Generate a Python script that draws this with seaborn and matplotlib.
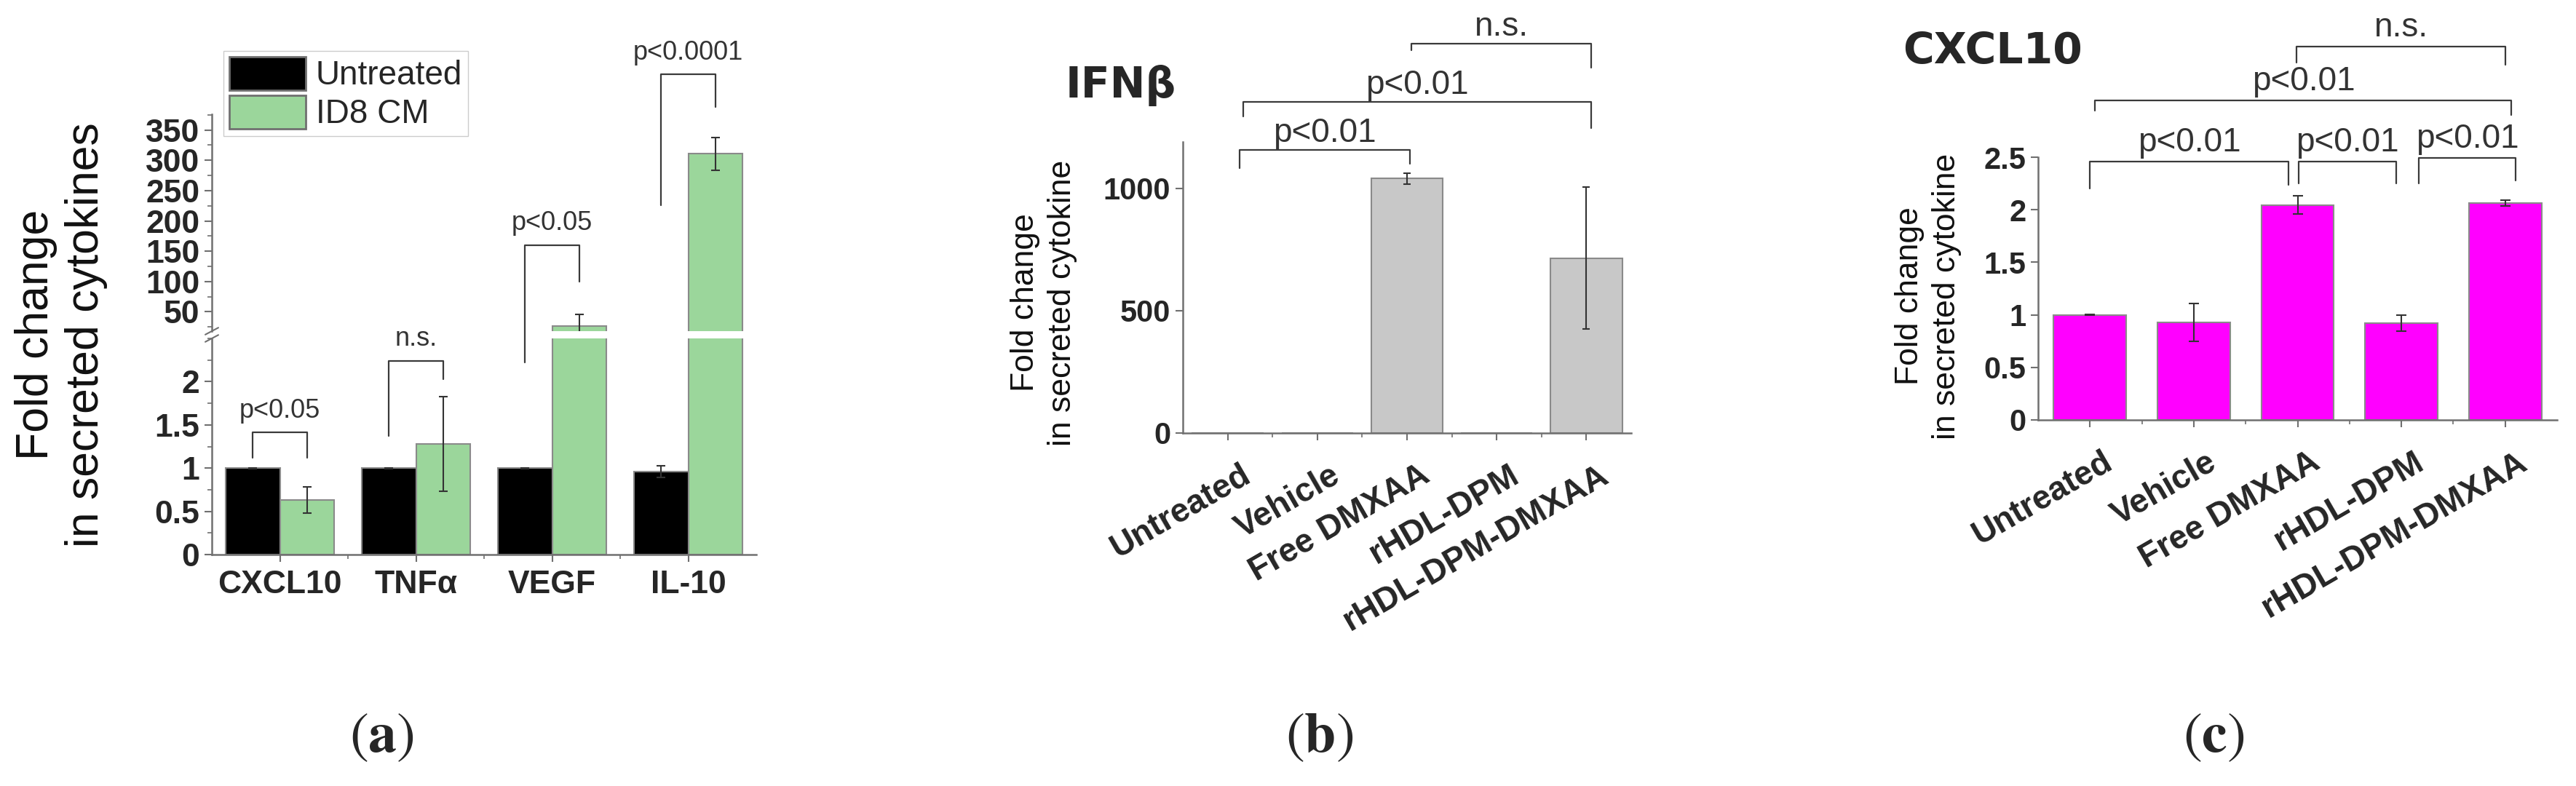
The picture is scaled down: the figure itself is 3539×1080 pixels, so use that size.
"""
Cytokine secretion panels: (a) broken-axis grouped bars, (b) IFNb, (c) CXCL10.
"""

import matplotlib.pyplot as plt
import numpy as np
import pandas as pd
import seaborn as sns
from matplotlib.lines import Line2D
from matplotlib.patches import Patch
from matplotlib.ticker import FixedLocator, MultipleLocator
from matplotlib.transforms import ScaledTranslation


# ---- panel (a) data ----
A_CYTOKINES = ['CXCL10', 'TNFα', 'VEGF', 'IL-10']
A_GROUPS = ['Untreated', 'ID8 CM']
A_UNTREATED = [1.0, 1.0, 1.0, 0.96]
A_UNTREATED_ERR = [0.005, 0.005, 0.005, 0.07]
A_ID8 = [0.63, 1.28, 27.0, 311.0]
A_ID8_ERR = [0.15, 0.55, 19.0, 27.0]
A_LOW_TICKS = [0, 0.5, 1, 1.5, 2]
A_HIGH_TICKS = [50, 100, 150, 200, 250, 300, 350]
# (x1, x2, top, top_axis, left_end, left_axis, right_end, right_axis, label)
A_BRACKETS = [
    (-0.2, 0.2, 1.41, 'lo', 1.12, 'lo', 1.12, 'lo', 'p<0.05'),
    (0.8, 1.2, 2.24, 'lo', 1.37, 'lo', 2.03, 'lo', 'n.s.'),
    (1.8, 2.2, 160, 'hi', 2.22, 'lo', 100, 'hi', 'p<0.05'),
    (2.8, 3.2, 442, 'hi', 226, 'hi', 388, 'hi', 'p<0.0001'),
]

# ---- panels (b) and (c) data ----
TREATMENTS = ['Untreated', 'Vehicle', 'Free DMXAA', 'rHDL-DPM', 'rHDL-DPM-DMXAA']
B_IFNB = [1.0, 1.0, 1040.0, 1.0, 715.0]
B_IFNB_ERR = [0, 0, 22.0, 0, 290.0]
B_TICKS = [0, 500, 1000]
B_BRACKETS = [
    (0.13, 2.03, 1156, 1084, 1101, 'p<0.01'),
    (0.17, 4.05, 1355, 1295, 1247, 'p<0.01'),
    (2.05, 4.05, 1593, 1564, 1493, 'n.s.'),
]
C_CXCL10 = [1.0, 0.93, 2.045, 0.92, 2.064]
C_CXCL10_ERR = [0.005, 0.18, 0.085, 0.075, 0.025]
C_TICKS = [0, 0.5, 1, 1.5, 2, 2.5]
C_BRACKETS = [
    (0.0, 1.91, 2.458, 2.20, 2.24, 'p<0.01'),
    (2.01, 2.95, 2.458, 2.25, 2.25, 'p<0.01'),
    (3.17, 4.10, 2.495, 2.25, 2.28, 'p<0.01'),
    (0.05, 4.06, 3.04, 2.94, 2.90, 'p<0.01'),
    (1.99, 4.00, 3.55, 3.40, 3.38, 'n.s.'),
]

BLACK = '#000000'
GREEN = '#9BD69B'
GRAY = '#C8C8C8'
MAGENTA = '#FF00FF'
EDGE = '#8a8a8a'
SPINE = '#707070'
INK = '#333333'

W, H = 3539, 1080

sns.set_style('ticks')
plt.rcParams['font.family'] = ['Liberation Sans', 'DejaVu Sans']
plt.rcParams['mathtext.fontset'] = 'stix'

fig = plt.figure(figsize=(W / 100, H / 100), dpi=100)
to_fig = fig.transFigure.inverted()


def px_axes(x0, y0, x1, y1):
    """Add axes from a pixel box (top-left origin)."""
    return fig.add_axes([x0 / W, 1 - y1 / H, (x1 - x0) / W, (y1 - y0) / H])


def style_axis(ax):
    sns.despine(ax=ax)
    for side in ('left', 'bottom'):
        ax.spines[side].set_color(SPINE)
        ax.spines[side].set_linewidth(1.8)
    ax.tick_params(which='major', direction='out', length=7, width=1.5, color=SPINE, pad=5)
    ax.tick_params(which='minor', direction='out', length=4, width=1.2, color=SPINE)
    ax.set_xlabel('')
    ax.set_ylabel('')


def fig_point(ax, x, y):
    return to_fig.transform(ax.transData.transform((x, y)))


def bracket(pts, text, dy, size):
    xs = [p[0] for p in pts]
    ys = [p[1] for p in pts]
    fig.add_artist(Line2D(xs, ys, transform=fig.transFigure, color='#3a3a3a', lw=1.6))
    mx = (pts[1][0] + pts[2][0]) / 2
    fig.text(mx, pts[1][1] + dy / H, text, ha='center', va='center',
             fontsize=size, color=INK)


def add_errorbars(ax, container, vals, errs, capsize):
    xs = np.array([b.get_x() + b.get_width() / 2 for b in container])
    vals = np.asarray(vals, dtype=float)
    errs = np.asarray(errs, dtype=float)
    keep = errs > 0
    ax.errorbar(xs[keep], vals[keep], yerr=errs[keep], fmt='none', ecolor=INK,
                elinewidth=1.5, capsize=capsize, capthick=1.5, zorder=5)


# ================= panel (a) =================
ax_lo = px_axes(291, 465, 1039, 762)
ax_hi = px_axes(291, 157, 1039, 455)

df_a = pd.DataFrame({
    'cytokine': A_CYTOKINES * 2,
    'group': [A_GROUPS[0]] * 4 + [A_GROUPS[1]] * 4,
    'value': A_UNTREATED + A_ID8,
})

for ax in (ax_lo, ax_hi):
    sns.barplot(data=df_a, x='cytokine', y='value', hue='group', palette=[BLACK, GREEN],
                saturation=1, width=0.8, errorbar=None, edgecolor=EDGE, linewidth=1.5,
                legend=False, ax=ax)
    for cont, vals, errs in zip(ax.containers, [A_UNTREATED, A_ID8], [A_UNTREATED_ERR, A_ID8_ERR]):
        add_errorbars(ax, cont, vals, errs, capsize=4.5)
    ax.set_xlim(-0.5, 3.5)
    style_axis(ax)

ax_lo.set_ylim(0, 2.5)
ax_lo.set_yticks(A_LOW_TICKS, labels=[f'{t:g}' for t in A_LOW_TICKS],
                 fontsize=32, fontweight='bold')
ax_lo.yaxis.set_minor_locator(MultipleLocator(0.25))
ax_lo.set_xticks(range(len(A_CYTOKINES)), labels=A_CYTOKINES, fontsize=32, fontweight='bold')
ax_lo.xaxis.set_minor_locator(FixedLocator([0.5, 1.5, 2.5]))
ax_lo.tick_params(axis='x', which='major', pad=8)

ax_hi.set_ylim(18, 376)
ax_hi.set_yticks(A_HIGH_TICKS, labels=[str(t) for t in A_HIGH_TICKS],
                 fontsize=32, fontweight='bold')
ax_hi.yaxis.set_minor_locator(MultipleLocator(25))
ax_hi.spines['bottom'].set_visible(False)
ax_hi.set_xticks([])
ax_hi.xaxis.set_minor_locator(FixedLocator([]))

# break marks on the y axis
for ax, y in ((ax_lo, 1.0), (ax_hi, 0.0)):
    ax.plot([-0.012, 0.012], [y - 0.016, y + 0.016], transform=ax.transAxes,
            color=SPINE, lw=1.5, clip_on=False)

fig.legend(handles=[Patch(facecolor=BLACK, edgecolor='#707070', lw=2, label=A_GROUPS[0]),
                    Patch(facecolor=GREEN, edgecolor='#707070', lw=2, label=A_GROUPS[1])],
           loc='upper left', bbox_to_anchor=(307 / W, 1 - 70 / H), fontsize=33,
           frameon=True, fancybox=False, edgecolor='#cccccc', framealpha=1,
           handlelength=2.3, handleheight=1.16, handletextpad=0.3,
           labelspacing=0.1, borderpad=0.17, borderaxespad=0)

fig.text(84 / W, 1 - 460 / H, 'Fold change\nin secreted cytokines', rotation=90,
         ha='center', va='center', fontsize=45, linespacing=1.2, color='#111111')

axes_a = {'lo': ax_lo, 'hi': ax_hi}
for x1, x2, top, top_ax, yl, l_ax, yr, r_ax, label in A_BRACKETS:
    pts = [fig_point(axes_a[l_ax], x1, yl), fig_point(axes_a[top_ax], x1, top),
           fig_point(axes_a[top_ax], x2, top), fig_point(axes_a[r_ax], x2, yr)]
    bracket(pts, label, 30, 26)


# ================= panels (b) and (c) =================
def treatment_panel(box, values, errs, color, width, ylim, ticks, brackets, title, title_xy,
                    label_xy, text_dy, capsize):
    ax = px_axes(*box)
    sns.barplot(x=TREATMENTS, y=values, color=color, saturation=1, width=width,
                errorbar=None, edgecolor=EDGE, linewidth=1.5, ax=ax)
    add_errorbars(ax, ax.containers[0], values, errs, capsize=capsize)
    ax.set_xlim(-0.5, len(TREATMENTS) - 0.5)
    ax.set_ylim(*ylim)
    style_axis(ax)
    ax.set_yticks(ticks, labels=[f'{t:g}' for t in ticks], fontsize=30, fontweight='bold')
    ax.set_xticks(range(len(TREATMENTS)), labels=[])
    ax.xaxis.set_minor_locator(FixedLocator(np.arange(0.5, len(TREATMENTS) - 1, 1.0)))

    # rotated category labels, anchored a little right of / below each tick
    shift = ScaledTranslation(0.165, -0.36, fig.dpi_scale_trans)
    for i, name in enumerate(TREATMENTS):
        ax.text(i, 0, name, transform=ax.get_xaxis_transform() + shift, rotation=30,
                rotation_mode='anchor', ha='right', va='top', fontsize=33,
                fontweight='bold')

    fig.text(title_xy[0] / W, 1 - title_xy[1] / H, title, ha='left', va='center',
             fontsize=42, fontweight='bold', family='DejaVu Sans')
    fig.text(label_xy[0] / W, 1 - label_xy[1] / H, 'Fold change\nin secreted cytokine',
             rotation=90, ha='center', va='center', fontsize=32,
             linespacing=1.3, color='#111111')

    for x1, x2, top, yl, yr, label in brackets:
        pts = [fig_point(ax, x1, yl), fig_point(ax, x1, top),
               fig_point(ax, x2, top), fig_point(ax, x2, yr)]
        bracket(pts, label, text_dy, 33)
    return ax


ax_b = treatment_panel((1625, 195, 2241, 595), B_IFNB, B_IFNB_ERR, GRAY, 0.8, (0, 1190),
                       B_TICKS, B_BRACKETS, 'IFNβ', (1464, 117), (1434, 416), 23, 3.6)
ax_c = treatment_panel((2800, 216, 3513, 577), C_CXCL10, C_CXCL10_ERR, MAGENTA, 0.7, (0, 2.5),
                       C_TICKS, C_BRACKETS, 'CXCL10', (2614, 71), (2649, 407), 26, 5)

# panel letters
for letter, x in (('a', 524), ('b', 1813), ('c', 3041)):
    fig.text(x / W, 1 - 1015 / H, rf'($\mathbf{{{letter}}}$)', ha='center', va='center',
             fontsize=56, family='STIXGeneral')

fig.savefig('out.png', dpi=100)
